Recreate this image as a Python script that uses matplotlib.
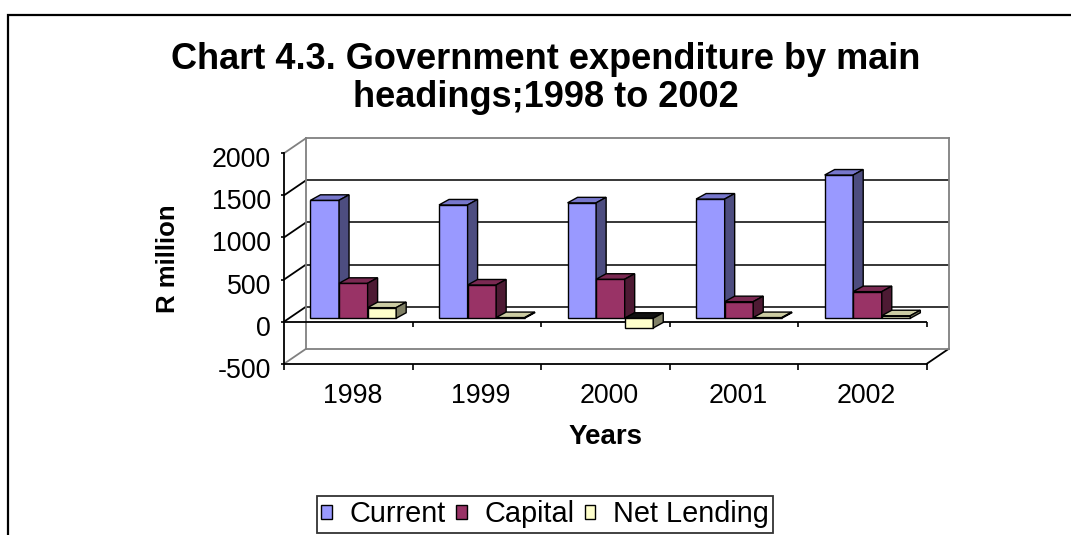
import matplotlib
matplotlib.use("Agg")
import matplotlib.pyplot as plt
from matplotlib.patches import Polygon, Patch, Rectangle, ConnectionPatch
from matplotlib.transforms import ScaledTranslation

# ---- data -------------------------------------------------------------
years = ["1998", "1999", "2000", "2001", "2002"]
current = [1400, 1345, 1370, 1415, 1700]
capital = [415, 395, 463, 197, 316]
net_lending = [126, 8, -115, 8, 30]
series_names = ["Current", "Capital", "Net Lending"]
y_ticks = [-500, 0, 500, 1000, 1500, 2000]
title_lines = ["Chart 4.3. Government expenditure by main", "headings;1998 to 2002"]

# ---- styling ----------------------------------------------------------
front_cols = ["#9999FF", "#993366", "#FFFFCC"]
top_cols = ["#7777CC", "#7A2952", "#CCCCA3"]
side_cols = ["#4D4D80", "#4D1A33", "#808066"]
under_col = "#111111"

plt.rcParams['font.family'] = ['Liberation Sans', 'DejaVu Sans']

W, H, DPI = 1071, 535, 100
fig = plt.figure(figsize=(W / DPI, H / DPI), dpi=DPI)

# layout of the pseudo-3D box, in pixels from the top-left corner
PLOT_X0, PLOT_X1 = 284, 926.7      # front edge of the category span
FRONT_ZERO = 321.7                 # value 0 on the front plane
PX_PER_UNIT = 42.12 / 500          # vertical scale
WALL_DEPTH = (22, 15)              # front -> back wall shift
BAR_PLANE = 0.23                   # fraction of depth where bar fronts sit
BAR_DEPTH = (10, 5.5)              # depth of each column
YMIN, YMAX = -500, 2000
n = len(years)


def plane_axes(dx, dy, zorder):
    x0, x1 = PLOT_X0 + dx, PLOT_X1 + dx
    zero = FRONT_ZERO - dy
    top = zero - YMAX * PX_PER_UNIT
    bottom = zero - YMIN * PX_PER_UNIT
    ax = fig.add_axes([x0 / W, 1 - bottom / H, (x1 - x0) / W, (bottom - top) / H],
                      zorder=zorder)
    ax.set_xlim(0, n)
    ax.set_ylim(YMIN, YMAX)
    ax.patch.set_visible(False)
    return ax


# back wall with gridlines
ax_back = plane_axes(WALL_DEPTH[0], WALL_DEPTH[1], 1)
for sp in ax_back.spines.values():
    sp.set_color("#808080")
    sp.set_linewidth(1.3)
ax_back.set_xticks([])
ax_back.set_yticks([t for t in y_ticks if YMIN < t < YMAX])
ax_back.tick_params(left=False, labelleft=False)
ax_back.grid(axis="y", color="black", linewidth=1.1)

# front plane: value axis, category axis, zero line
ax_front = plane_axes(0, 0, 2)
ax_front.spines["top"].set_visible(False)
ax_front.spines["right"].set_visible(False)
for sp in ("left", "bottom"):
    ax_front.spines[sp].set_linewidth(1.3)
ax_front.set_yticks(y_ticks)
ax_front.set_yticklabels([str(t) for t in y_ticks], fontsize=19.3)
ax_front.tick_params(axis="y", length=2.5, width=1.2, pad=6.9)
ax_front.set_xticks(range(n + 1))
ax_front.set_xticklabels([])
ax_front.tick_params(axis="x", which="major", length=4, width=1.2)
ax_front.set_xticks([i + 0.5 for i in range(n)], minor=True)
ax_front.set_xticklabels(years, minor=True, fontsize=19.3)
ax_front.tick_params(axis="x", which="minor", length=0, pad=14)
for lbl in ax_front.get_yticklabels():
    lbl.set_transform(lbl.get_transform() + ScaledTranslation(0, -4 / DPI, fig.dpi_scale_trans))
for lbl in ax_front.get_xticklabels(minor=True):
    lbl.set_transform(lbl.get_transform() + ScaledTranslation(4 / DPI, 0, fig.dpi_scale_trans))
ax_front.axhline(0, color="black", linewidth=1.3)
ax_front.plot(range(1, n + 1), [0] * n, linestyle="none", marker=3,
              markersize=3.6, markeredgewidth=1.2, color="black", clip_on=False)

ax_front.set_xlabel("Years", fontsize=20, fontweight="bold")
ax_front.xaxis.label.set_va("center")
ax_front.xaxis.set_label_coords(0.5, -(437 - 363.8) / 210.6)
ax_front.set_ylabel("R million", fontsize=18.5, fontweight="bold")
ax_front.yaxis.label.set_va("center")
ax_front.yaxis.set_label_coords(-(284 - 168.3) / (PLOT_X1 - PLOT_X0), (363.8 - 259) / 210.6)

# side wall / floor edges joining front and back planes
for t in y_ticks:
    col = "#808080" if t in (YMIN, YMAX) else "black"
    fig.add_artist(ConnectionPatch((0, t), (0, t), coordsA=ax_front.transData,
                                   coordsB=ax_back.transData, color=col, linewidth=1.3))
fig.add_artist(ConnectionPatch((n, YMIN), (n, YMIN), coordsA=ax_front.transData,
                               coordsB=ax_back.transData, color="black", linewidth=1.3))

# columns
ax_bar = plane_axes(WALL_DEPTH[0] * BAR_PLANE, WALL_DEPTH[1] * BAR_PLANE, 3)
ax_bar.axis("off")
width = 1 / 4.5
ddx = BAR_DEPTH[0] / ((PLOT_X1 - PLOT_X0) / n)
ddy = BAR_DEPTH[1] / PX_PER_UNIT
groups = [current, capital, net_lending]
z = 3
for i in range(n):
    for s, vals in enumerate(groups):
        v = vals[i]
        c = i + 0.5 + (s - 1) * width
        x0, x1 = c - width / 2, c + width / 2
        lo, hi = min(v, 0), max(v, 0)
        ax_bar.bar(c, v, width, color=front_cols[s], edgecolor="black",
                   linewidth=1.0, zorder=z, clip_on=False)
        top_col = top_cols[s] if v >= 0 else under_col
        ax_bar.add_patch(Polygon([(x0, hi), (x1, hi), (x1 + ddx, hi + ddy), (x0 + ddx, hi + ddy)],
                                 closed=True, facecolor=top_col, edgecolor="black",
                                 linewidth=1.0, zorder=z, clip_on=False))
        ax_bar.add_patch(Polygon([(x1, lo), (x1 + ddx, lo + ddy), (x1 + ddx, hi + ddy), (x1, hi)],
                                 closed=True, facecolor=side_cols[s], edgecolor="black",
                                 linewidth=1.0, zorder=z, clip_on=False))
        z += 1

# title, one baseline per line
for line, base in zip(title_lines, (69, 107)):
    fig.text(546 / W, 1 - base / H, line, ha="center", va="baseline",
             fontsize=26, fontweight="bold")

# legend
handles = [Patch(facecolor=front_cols[s], edgecolor="black", linewidth=1.0)
           for s in range(len(series_names))]
leg = fig.legend(handles, series_names, loc="upper center", ncol=3,
                 bbox_to_anchor=(545 / W, 1 - 496 / H), fontsize=20.8,
                 frameon=True, fancybox=False, edgecolor="black",
                 handlelength=0.36, handleheight=0.36, handletextpad=0.6,
                 columnspacing=0.38, borderpad=0.15, borderaxespad=0)
leg.get_frame().set_linewidth(1.3)

# outer chart border
fig.add_artist(Rectangle((8 / W, -0.1), 1.2, 1 - 14.5 / H + 0.1, transform=fig.transFigure,
                         fill=False, edgecolor="black", linewidth=1.6))

fig.savefig("out.png", dpi=DPI)
